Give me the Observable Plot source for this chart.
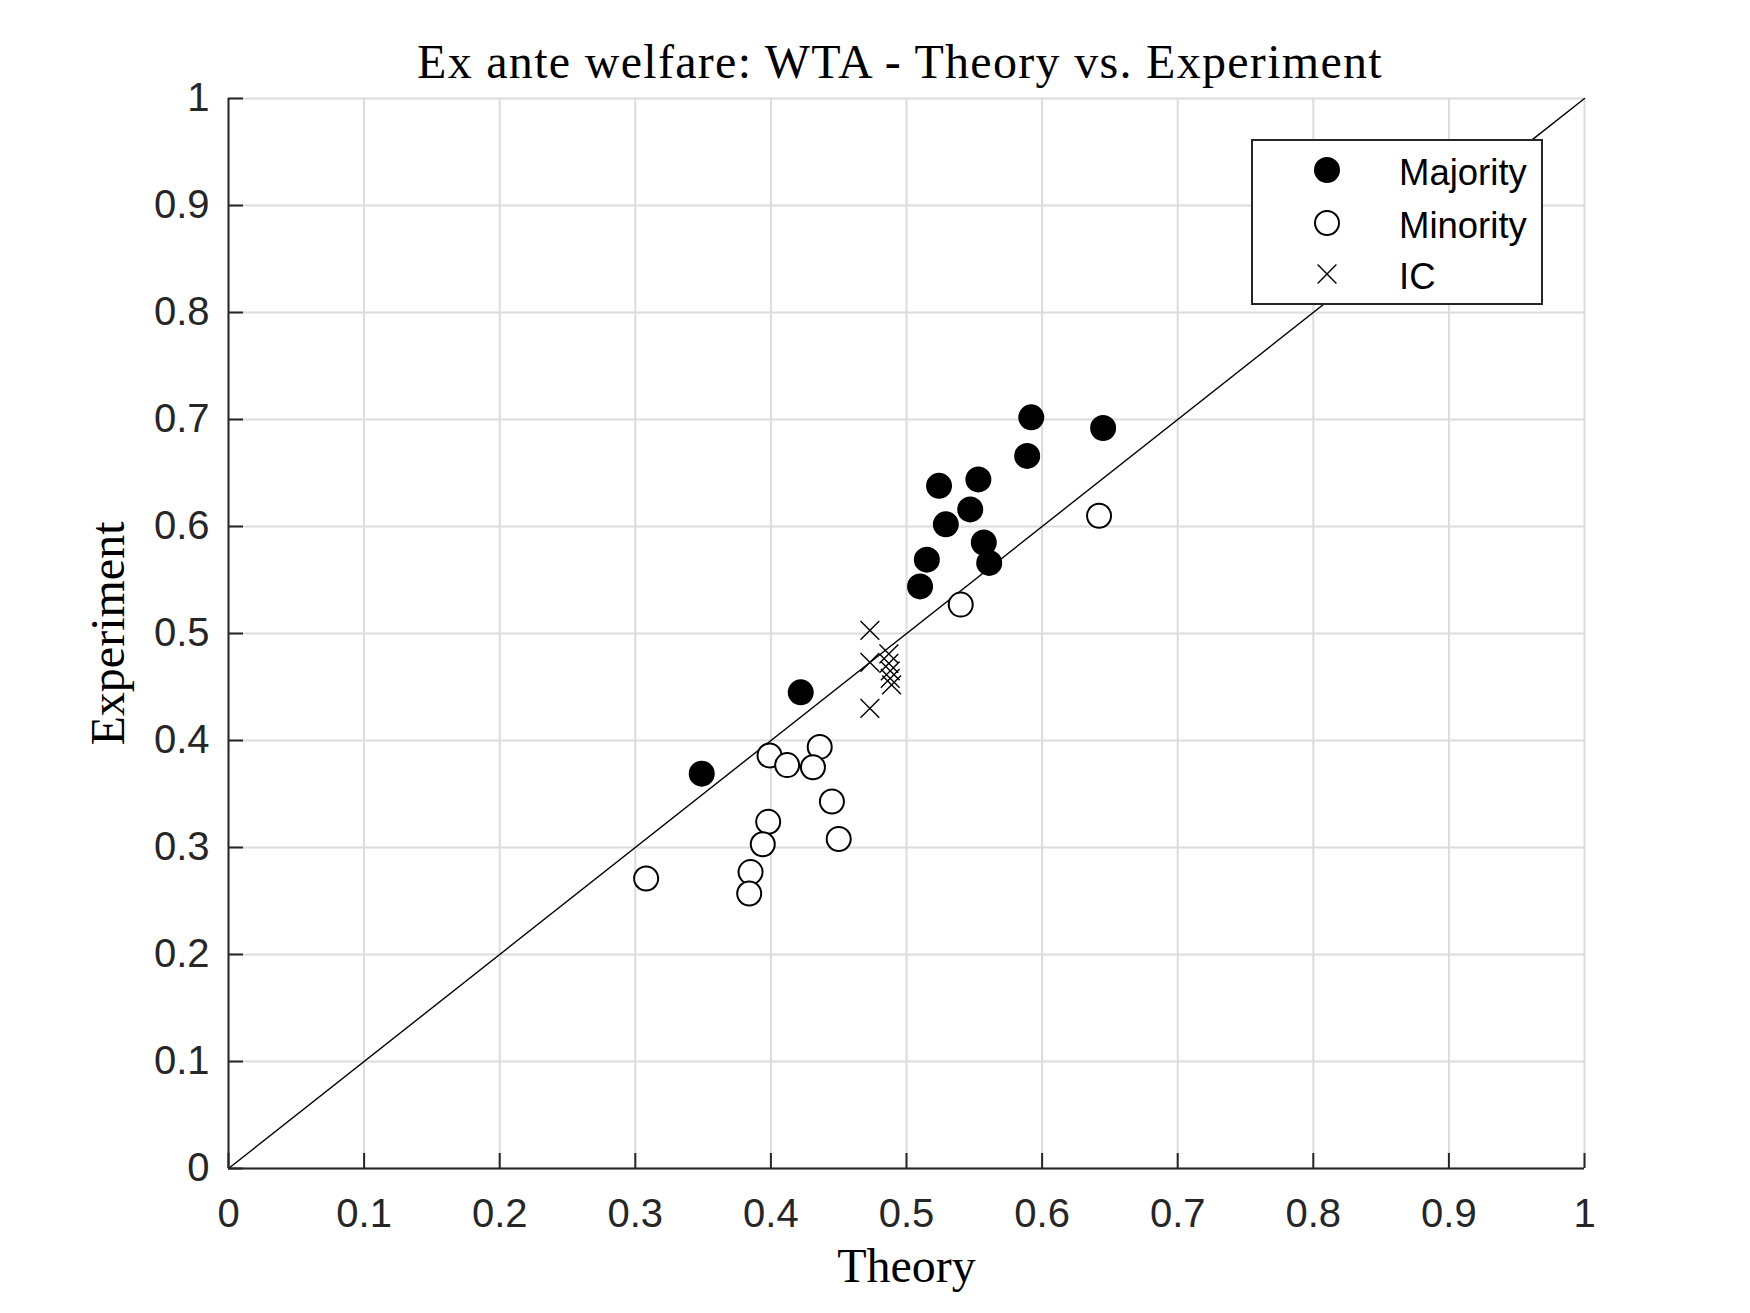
<!DOCTYPE html>
<html>
<head>
<meta charset="utf-8">
<script src="https://cdn.jsdelivr.net/npm/d3@7"></script>
<script src="https://cdn.jsdelivr.net/npm/@observablehq/plot@0.6"></script>
<style>
  body { margin: 0; background: #fff; }
  #wrap { position: relative; width: 1750px; height: 1313px; background: #fff; }
  #title { height: 70px; box-sizing: border-box; padding-top: 38px; padding-left: 50px; text-align: center;
           font-family: "Liberation Serif", "DejaVu Serif", serif; font-size: 48px; line-height: 48px; letter-spacing: 1.3px; color: #000; white-space: nowrap; }
  #legend { position: absolute; left: 1251px; top: 139px; width: 292px; height: 166px; box-sizing: border-box;
            border: 2px solid #262626; background: #fff; }
  #legend svg { display: block; }
</style>
</head>
<body>
<div id="wrap">
  <div id="title"></div>
  <div id="chart"></div>
  <div id="legend"></div>
</div>
<script>
// ---- Data ----
const titleText = "Ex ante welfare: WTA - Theory vs. Experiment";
const xLabel = "Theory";
const yLabel = "Experiment";

const tickValues = [0, 0.1, 0.2, 0.3, 0.4, 0.5, 0.6, 0.7, 0.8, 0.9, 1];
const tickLabels = ["0", "0.1", "0.2", "0.3", "0.4", "0.5", "0.6", "0.7", "0.8", "0.9", "1"];

const seriesNames = ["Majority", "Minority", "IC"];

const majorityTheory     = [0.592, 0.645, 0.589, 0.524, 0.553, 0.547, 0.529, 0.557, 0.561, 0.515, 0.510, 0.422, 0.349];
const majorityExperiment = [0.702, 0.692, 0.666, 0.638, 0.644, 0.616, 0.602, 0.585, 0.566, 0.569, 0.544, 0.445, 0.369];

const minorityTheory     = [0.642, 0.540, 0.308, 0.399, 0.412, 0.436, 0.431, 0.445, 0.450, 0.398, 0.394, 0.385, 0.384];
const minorityExperiment = [0.610, 0.527, 0.271, 0.386, 0.377, 0.394, 0.375, 0.343, 0.308, 0.324, 0.303, 0.277, 0.257];

const icTheory     = [0.473, 0.473, 0.473, 0.487, 0.487, 0.488, 0.488, 0.489];
const icExperiment = [0.503, 0.473, 0.430, 0.481, 0.472, 0.465, 0.458, 0.452];

const diagX = [0, 1];
const diagY = [0, 1];

// ---- Build tables ----
const toRows = (xs, ys) => xs.map((x, i) => ({x, y: ys[i]}));
const majority = toRows(majorityTheory, majorityExperiment);
const minority = toRows(minorityTheory, minorityExperiment);
const ic = toRows(icTheory, icExperiment);
const diag = toRows(diagX, diagY);
const fmt = d => tickLabels[tickValues.findIndex(t => Math.abs(t - d) < 1e-9)];

document.getElementById("title").textContent = titleText;

const serif = "'Liberation Serif', 'DejaVu Serif', serif";
const axisColor = "#262626";
const gridColor = "#dcdcdc";

const chart = Plot.plot({
  width: 1750,
  height: 1243,
  marginTop: 28,
  marginBottom: 145,
  marginLeft: 228,
  marginRight: 166,
  x: {domain: [0, 1]},
  y: {domain: [0, 1]},
  style: {fontFamily: "'Liberation Sans', Arial, sans-serif", fontSize: "40px", color: axisColor, background: "white", overflow: "visible"},
  marks: [
    Plot.gridX(tickValues, {stroke: gridColor, strokeOpacity: 1, strokeWidth: 2}),
    Plot.gridY(tickValues, {stroke: gridColor, strokeOpacity: 1, strokeWidth: 2}),
    Plot.line(diag, {x: "x", y: "y", stroke: "black", strokeWidth: 1.4}),
    Plot.ruleX([0], {stroke: axisColor, strokeWidth: 2}),
    Plot.ruleY([0], {stroke: axisColor, strokeWidth: 2}),
    Plot.axisX({ticks: tickValues, tickFormat: fmt, tickSize: -15, tickPadding: 45, strokeWidth: 2, label: null, fontSize: 40}),
    Plot.axisY({ticks: tickValues, tickFormat: fmt, tickSize: -15, tickPadding: 34, strokeWidth: 2, label: null, fontSize: 40}),
    Plot.dot(majority, {x: "x", y: "y", r: 12, fill: "black", stroke: "black", strokeWidth: 2}),
    Plot.dot(minority, {x: "x", y: "y", r: 12, fill: "white", stroke: "black", strokeWidth: 2}),
    Plot.dot(ic, {x: "x", y: "y", symbol: "times", r: 8.6, stroke: "black", strokeWidth: 1.4}),
    Plot.text([xLabel], {text: d => d, frameAnchor: "bottom", lineAnchor: "bottom", textAnchor: "middle", dy: 113, fontFamily: serif, fontSize: 48, fill: "black"}),
    Plot.text([yLabel], {text: d => d, frameAnchor: "left", rotate: -90, lineAnchor: "bottom", textAnchor: "middle", dx: -105, fontFamily: serif, fontSize: 48, fill: "black"})
  ]
});
document.getElementById("chart").appendChild(chart);

// ---- Legend ----
const leg = d3.select("#legend").append("svg").attr("width", 288).attr("height", 162);
const rowY = [29, 82, 133];
const mx = 74;
const g0 = leg.append("g");
g0.append("circle").attr("cx", mx).attr("cy", rowY[0]).attr("r", 12).attr("fill", "black").attr("stroke", "black").attr("stroke-width", 2);
g0.append("circle").attr("cx", mx).attr("cy", rowY[1]).attr("r", 12).attr("fill", "white").attr("stroke", "black").attr("stroke-width", 2);
g0.append("path").attr("transform", `translate(${mx},${rowY[2]})`)
  .attr("d", d3.symbol(d3.symbolTimes, Math.PI * 8.6 * 8.6)())
  .attr("fill", "none").attr("stroke", "black").attr("stroke-width", 1.4);
seriesNames.forEach((name, i) => {
  leg.append("text").attr("x", 146).attr("y", rowY[i] + 15)
    .attr("font-family", "'Liberation Sans', Arial, sans-serif").attr("font-size", 36.5)
    .attr("fill", "black").text(name);
});
</script>
</body>
</html>
